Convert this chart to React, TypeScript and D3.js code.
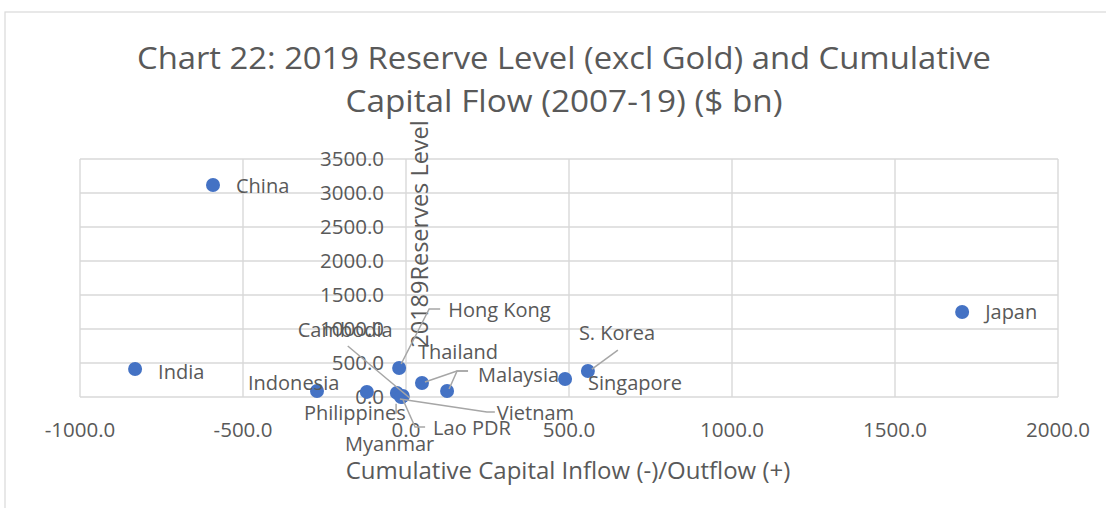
import React from 'react';
import * as d3 from 'd3';

// 2019 reserves (excl gold) vs cumulative capital flow 2007-19, $ bn
const countries = ['China', 'India', 'Japan', 'Indonesia', 'Philippines', 'Hong Kong', 'Thailand', 'Malaysia', 'Singapore', 'S. Korea', 'Vietnam', 'Cambodia', 'Myanmar', 'Lao PDR'];
const capitalFlow = [-592, -831, 1706, -273, -120, -21, 49, 126, 488, 558, -28, -10, -12, -15];
const reserves = [3118, 412, 1250, 88, 75, 426, 206, 88, 265, 382, 60, 15, 5, 1];

const xTicks = [-1000, -500, 0, 500, 1000, 1500, 2000];
const yTicks = [0, 500, 1000, 1500, 2000, 2500, 3000, 3500];

// label placement relative to the point (px), plus optional leader line
const labelLayout: Record<string, { dx: number; dy: number; leader?: number[][] }> = {
  'China': { dx: 23, dy: 1 },
  'India': { dx: 23, dy: 3 },
  'Japan': { dx: 23, dy: 0 },
  'Indonesia': { dx: -69, dy: -8 },
  'Philippines': { dx: -63, dy: 21 },
  'Hong Kong': { dx: 49, dy: -58, leader: [[2, -4], [30, -59], [41, -59]] },
  'Thailand': { dx: -4, dy: -31, leader: [[3, -1], [35, -12], [46, -12]] },
  'Malaysia': { dx: 31, dy: -16, leader: [[2, -2], [10, -20], [21, -20]] },
  'Singapore': { dx: 23, dy: 4 },
  'S. Korea': { dx: -9, dy: -38, leader: [[4, -2], [30, -21]] },
  'Vietnam': { dx: 100, dy: 20, leader: [[3, 6], [90, 19], [98, 19]] },
  'Cambodia': { dx: -105, dy: -66, leader: [[-55, -50], [7, 2]] },
  'Myanmar': { dx: -57, dy: 47, leader: [[-6, 7], [-6, 17]] },
  'Lao PDR': { dx: 32, dy: 31, leader: [[2, 3], [14, 30], [24, 30]] },
};

const FONT = '"Open Sans", "Liberation Sans", sans-serif';
const TEXT = '#595959';
const GRID = '#d9d9d9';
const DOT = '#4472c4';

const App = () => {
  const width = 1106;
  const height = 508;
  const plot = { left: 80, right: 1058, top: 159, bottom: 397 };

  const x = d3.scaleLinear().domain([-1000, 2000]).range([plot.left, plot.right]);
  const y = d3.scaleLinear().domain([0, 3500]).range([plot.bottom, plot.top]);
  const fmt = (v: number) => v.toFixed(1);
  const line = d3.line();

  const points = countries.map((c, i) => ({ name: c, cx: x(capitalFlow[i]), cy: y(reserves[i]) }));

  return (
    <svg width={width} height={height} style={{ position: 'absolute', left: 0, top: 0, background: '#fff' }} fontFamily={FONT}>
      <rect x={5} y={12} width={1200} height={600} fill="#fff" stroke={GRID} strokeWidth={1.2} />

      <text x={564} y={69} textAnchor="middle" fontSize={31} fill={TEXT} textLength={854} lengthAdjust="spacingAndGlyphs">
        Chart 22: 2019 Reserve Level (excl Gold) and Cumulative
      </text>
      <text x={564} y={112} textAnchor="middle" fontSize={31} fill={TEXT} textLength={437} lengthAdjust="spacingAndGlyphs">
        Capital Flow (2007-19) ($ bn)
      </text>

      {/* grid */}
      {yTicks.map(t => (
        <line key={'gy' + t} x1={plot.left} x2={plot.right} y1={y(t)} y2={y(t)} stroke={GRID} strokeWidth={1.4} />
      ))}
      {xTicks.map(t => (
        <line key={'gx' + t} x1={x(t)} x2={x(t)} y1={plot.top} y2={plot.bottom} stroke={GRID} strokeWidth={1.4} />
      ))}

      {/* tick labels */}
      {yTicks.map(t => (
        <text key={'ty' + t} x={x(0) - 22} y={y(t)} dy="0.36em" textAnchor="end" fontSize={20.5} fill={TEXT}>
          {fmt(t)}
        </text>
      ))}
      {xTicks.map(t => (
        <text key={'tx' + t} x={x(t)} y={430} dy="0.36em" textAnchor="middle" fontSize={20.5} fill={TEXT}>
          {fmt(t)}
        </text>
      ))}

      {/* axis titles */}
      <text transform={`translate(${x(0) + 14},234) rotate(-90)`} dy="0.36em" textAnchor="middle" fontSize={23.5} fill={TEXT}>
        20189Reserves Level
      </text>
      <text x={568} y={470} dy="0.36em" textAnchor="middle" fontSize={24} fill={TEXT}>
        Cumulative Capital Inflow (-)/Outflow (+)
      </text>

      {/* points */}
      {points.map(p => (
        <circle key={'c' + p.name} cx={p.cx} cy={p.cy} r={7} fill={DOT} />
      ))}

      {/* leader lines */}
      {points.map(p => {
        const l = labelLayout[p.name];
        if (!l.leader) return null;
        const pts = l.leader.map(([dx, dy]) => [p.cx + dx, p.cy + dy] as [number, number]);
        return <path key={'l' + p.name} d={line(pts) || ''} fill="none" stroke="#a6a6a6" strokeWidth={1.5} />;
      })}

      {/* data labels */}
      {points.map(p => {
        const l = labelLayout[p.name];
        return (
          <text key={'t' + p.name} x={p.cx + l.dx} y={p.cy + l.dy} dy="0.36em" fontSize={20} fill={TEXT}>
            {p.name}
          </text>
        );
      })}
    </svg>
  );
};

export default App;
